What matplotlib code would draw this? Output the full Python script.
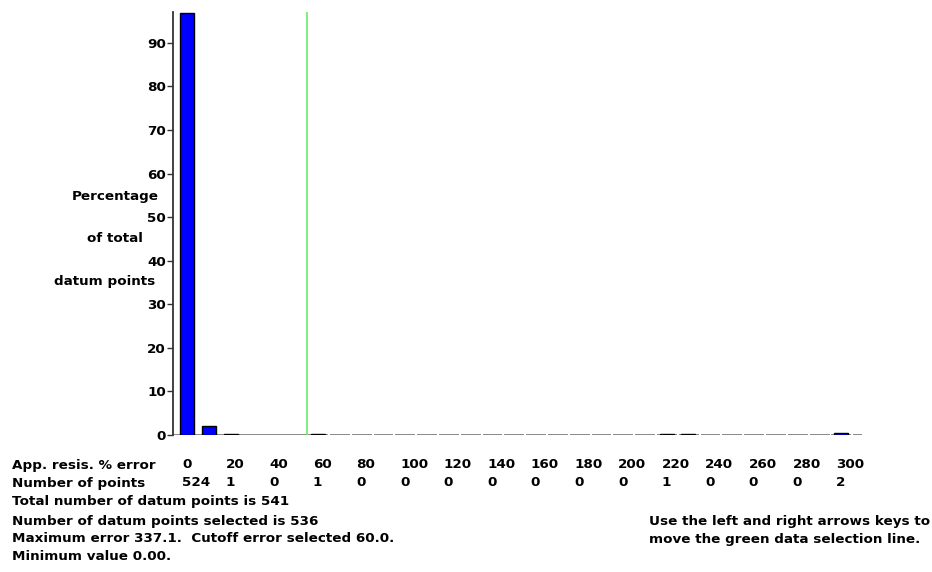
#!/usr/bin/env python3

import numpy as np
import matplotlib
matplotlib.use("Agg")
import matplotlib.pyplot as plt
from matplotlib.transforms import blended_transform_factory

# counts of datum points in each 10 % wide bin of apparent resistivity error
bin_counts = [524, 11, 1, 0, 0, 0, 1, 0, 0, 0,
              0, 0, 0, 0, 0, 0, 0, 0, 0, 0,
              0, 0, 1, 1, 0, 0, 0, 0, 0, 0,
              2]
error_labels = [0, 20, 40, 60, 80, 100, 120, 140, 160, 180, 200, 220, 240, 260, 280, 300]
total_points = 541
selected_points = 536
max_error = 337.1
cutoff_error = 60.0
min_value = 0.00

plt.rcParams['font.family'] = ['DejaVu Sans']
plt.rcParams['font.weight'] = 'bold'
FS = 9.7

W, H = 932, 572
fig = plt.figure(figsize=(W / 100, H / 100), dpi=100)
ax = fig.add_axes([173 / W, (H - 435) / H, (862 - 173) / W, (435 - 12) / H])

counts = np.array(bin_counts)
pct = counts / total_points * 100.0
idx = np.arange(len(counts))
nz = counts > 0

ax.set_xlim(-0.64, 30.96)
ax.set_ylim(0, 97.1)

# baseline: solid up to the cutoff, then one short segment per bin
cut_idx = int(cutoff_error / 10)
ax.hlines(0, -0.64, cut_idx + 0.47, color='#808080', lw=1.3, zorder=1)
for i in range(cut_idx + 1, len(counts) + 1):
    ax.hlines(0, i - 0.44, min(i + 0.47, 30.96), color='#808080', lw=1.3, zorder=1)

ax.bar(idx[nz], pct[nz], width=0.64, color='#0000ff', edgecolor='black', lw=1.0, zorder=2)

# green data selection line
ax.axvline(cut_idx - 0.5, color='#66ee66', lw=1.2, zorder=3)

for s in ['top', 'right', 'bottom']:
    ax.spines[s].set_visible(False)
ax.spines['left'].set_color('#333333')
ax.spines['left'].set_linewidth(1.3)
ax.set_xticks([])
ax.set_yticks(range(0, 100, 10))
ax.tick_params(axis='y', length=4, width=1, color='#333333', pad=1, labelsize=FS)

def ftext(x, y, s, **kw):
    kw.setdefault('fontsize', FS)
    kw.setdefault('va', 'center')
    fig.text(x / W, 1 - y / H, s, **kw)

# y label written on three lines
ftext(115, 196, "Percentage", ha='center')
ftext(115, 239, "of total", ha='center')
ftext(105, 282, "datum points", ha='center')

# table under the x axis
trans = blended_transform_factory(ax.transData, fig.transFigure)
ftext(12, 465, "App. resis. % error")
ftext(12, 483, "Number of points")
for lab in error_labels:
    i = lab // 10
    ax.text(i - 0.23, 1 - 465 / H, str(lab), transform=trans, ha='left', va='center', fontsize=FS)
    ax.text(i - 0.23, 1 - 483 / H, str(bin_counts[i]), transform=trans, ha='left', va='center', fontsize=FS)

ftext(12, 502, f"Total number of datum points is {total_points}")
ftext(12, 521, f"Number of datum points selected is {selected_points}")
ftext(12, 539, f"Maximum error {max_error:.1f}.  Cutoff error selected {cutoff_error:.1f}.")
ftext(12, 557, f"Minimum value {min_value:.2f}.")

ftext(649, 522, "Use the left and right arrows keys to")
ftext(649, 539, "move the green data selection line.")

fig.savefig("out.png", dpi=100)
